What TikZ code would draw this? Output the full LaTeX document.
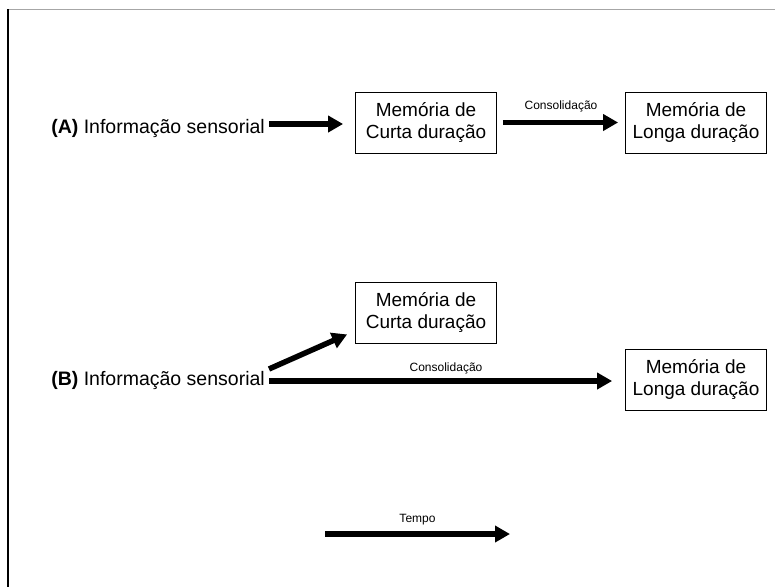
\documentclass[tikz,border=0pt]{standalone}
\usepackage{fontspec}
\setmainfont{Liberation Sans}
\usetikzlibrary{arrows.meta}

\tikzset{
  caixa/.style={draw, line width=0.8pt, align=center, inner sep=0pt,
    minimum width=141pt, minimum height=61pt,
    font=\fontsize{19}{21.5}\selectfont},
  info/.style={anchor=base east, inner sep=0pt, font=\fontsize{19.5}{22}\selectfont},
  seta/.style={line width=5.5pt, -{Triangle[length=15pt, width=16pt]}},
  rotulo/.style={inner sep=0pt, font=\fontsize{12}{14}\selectfont},
}

\begin{document}
\begin{tikzpicture}[x=1pt, y=-1pt]
    \useasboundingbox (0,0) rectangle (775,587);
    \draw[gray!70, line width=0.8pt] (8,9) -- (775,9);
    \draw[line width=1.5pt] (8,9) -- (8,587);

    % (A)
    \node[info] (infoA) at (265,133) {\textbf{(A)} Informação sensorial};
    \node[caixa] (curtaA) at (426,122.5) {Memória de\\Curta duração};
    \node[caixa] (longaA) at (696,122.5) {Memória de\\Longa duração};
    \coordinate (saiA) at ([xshift=4pt, yshift=9pt]infoA.base east);
    \draw[seta, shorten >=12pt] (saiA) -- (saiA -| curtaA.west);
    \draw[seta, shorten <=6pt, shorten >=7pt] (curtaA.east) -- (longaA.west)
      node[rotulo, midway, above=8pt] (consA) {Consolidação};

    % (B)
    \node[info] (infoB) at (265,385) {\textbf{(B)} Informação sensorial};
    \node[caixa] (curtaB) at (426,312.5) {Memória de\\Curta duração};
    \node[caixa] (longaB) at (696,379.5) {Memória de\\Longa duração};
    \coordinate (saiB) at ([xshift=4pt, yshift=4pt]infoB.base east);
    \coordinate (sobeB) at ([xshift=4pt, yshift=16pt]infoB.base east);
    \draw[seta, shorten >=13pt] (saiB) -- (saiB -| longaB.west);
    \draw[seta] (sobeB) -- ([xshift=-8pt, yshift=9pt]curtaB.south west);
    \node[rotulo] (consB) at (446,368) {Consolidação};

    % tempo
    \coordinate (t0) at (325,534);
    \coordinate (t1) at (510,534);
    \draw[seta] (t0) -- (t1) node[rotulo, midway, above=6pt] (tempo) {Tempo};
\end{tikzpicture}
\end{document}
